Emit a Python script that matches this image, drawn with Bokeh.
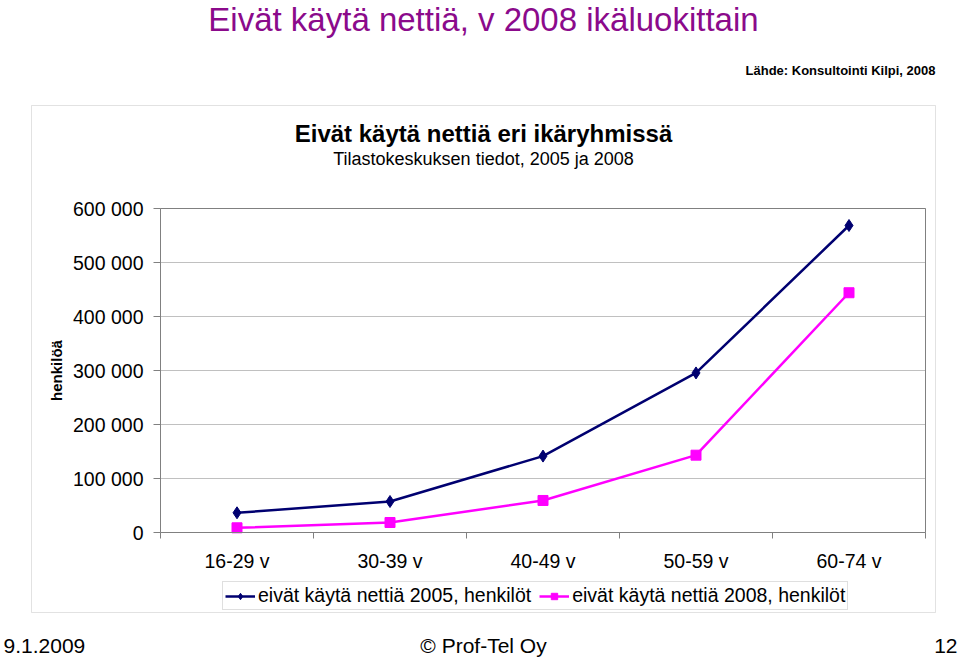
from bokeh.plotting import figure
from bokeh.models import (Label, Legend, LegendItem, FixedTicker, Range1d, BoxAnnotation)
from bokeh.embed import file_html
from bokeh.resources import INLINE

categories = ["16-29 v", "30-39 v", "40-49 v", "50-59 v", "60-74 v"]
values_2005 = [36500, 57400, 141500, 295500, 568500]
values_2008 = [8700, 18500, 59300, 143200, 444000]
series_names = ["eivät käytä nettiä 2005, henkilöt", "eivät käytä nettiä 2008, henkilöt"]
y_ticks = [0, 100000, 200000, 300000, 400000, 500000, 600000]
y_tick_labels = ["0", "100 000", "200 000", "300 000", "400 000", "500 000", "600 000"]

W, H = 960, 659
# plot area edges in page pixels
PL, PR, PT, PB = 160, 925, 208, 532
FONT = "Liberation Sans"

n = len(categories)
ymax = y_ticks[-1]
x = [i + 0.5 for i in range(n)]

# ranges chosen so that the plot area maps onto the page pixels above,
# while the frame covers the whole canvas (axes use fixed locations)
ux = (PR - PL) / n
uy = (PB - PT) / ymax
x_range = Range1d(-PL / ux, n + (W - PR) / ux)
y_range = Range1d(-(H - PB) / uy, ymax + PT / uy)

p = figure(width=W, height=H, output_backend="svg", toolbar_location=None,
           x_range=x_range, y_range=y_range, min_border=0,
           title_location=None)
p.background_fill_color = "white"
p.border_fill_color = "white"
p.outline_line_color = None
p.grid.visible = False

# x axis
p.xaxis.fixed_location = 0
p.xaxis.bounds = (0, n)
p.xaxis.ticker = FixedTicker(ticks=x, minor_ticks=list(range(n + 1)))
p.xaxis.major_label_overrides = {xi: c for xi, c in zip(x, categories)}
p.xaxis.major_tick_line_color = None
p.xaxis.minor_tick_in = 0
p.xaxis.minor_tick_out = 6
p.xaxis.minor_tick_line_color = "#808080"
p.xaxis.axis_line_color = "#808080"
p.xaxis.major_label_text_font = FONT
p.xaxis.major_label_text_font_size = "19.5px"
p.xaxis.major_label_text_color = "black"
p.xaxis.major_label_standoff = 11

# y axis
p.yaxis.fixed_location = 0
p.yaxis.bounds = (0, ymax)
p.yaxis.ticker = FixedTicker(ticks=y_ticks, minor_ticks=[])
p.yaxis.major_label_overrides = {t: l for t, l in zip(y_ticks, y_tick_labels)}
p.yaxis.major_tick_in = 0
p.yaxis.major_tick_out = 7
p.yaxis.major_tick_line_color = "#808080"
p.yaxis.axis_line_color = "#808080"
p.yaxis.major_label_text_font = FONT
p.yaxis.major_label_text_font_size = "19.5px"
p.yaxis.major_label_text_color = "black"
p.yaxis.major_label_standoff = 10
p.yaxis.axis_label = "henkilöä"
p.yaxis.axis_label_text_font = FONT
p.yaxis.axis_label_text_font_style = "bold"
p.yaxis.axis_label_text_font_size = "15px"
p.yaxis.axis_label_text_color = "black"
p.yaxis.axis_label_standoff = 5

# gridlines and plot-area border (from the tick array)
p.segment(x0=[0] * len(y_ticks), x1=[n] * len(y_ticks), y0=y_ticks, y1=y_ticks,
          line_color="#c0c0c0", line_width=1)
p.segment(x0=[0, n], x1=[n, n], y0=[ymax, 0], y1=[ymax, ymax],
          line_color="#808080", line_width=1)

# series
c05 = "#000070"
c08 = "#ff00ff"
l1 = p.line(x, values_2005, line_color=c05, line_width=2.5)
m1 = p.scatter(x, values_2005, marker="diamond", size=12, fill_color=c05, line_color=c05)
l2 = p.line(x, values_2008, line_color=c08, line_width=2.5)
m2 = p.scatter(x, values_2008, marker="square", size=10, fill_color=c08, line_color=c08)

legend = Legend(items=[LegendItem(label=series_names[0], renderers=[l1, m1]),
                       LegendItem(label=series_names[1], renderers=[l2, m2])],
                orientation="horizontal", location=(222, H - 610),
                label_text_font=FONT, label_text_font_size="19.5px",
                label_text_color="black", label_height=18,
                glyph_width=30, glyph_height=16, label_standoff=3, spacing=8,
                padding=2, margin=0, border_line_color="#c0c0c0",
                background_fill_alpha=1)
p.add_layout(legend, "center")

# chart border box
p.add_layout(BoxAnnotation(left=31, right=935, top=H - 105, bottom=H - 612,
                           left_units="screen", right_units="screen",
                           top_units="screen", bottom_units="screen",
                           fill_alpha=0, line_color="#a0a0a0", line_width=1,
                           level="underlay"))

def add_text(txt, sx, sy, size, color="black", style="normal", align="center",
             font=FONT):
    p.add_layout(Label(x=sx, y=H - sy, x_units="screen", y_units="screen",
                       text=txt, text_font=font, text_font_size=size,
                       text_color=color, text_font_style=style,
                       text_align=align, text_baseline="middle"))

add_text("Eivät käytä nettiä, v 2008 ikäluokittain", 483, 19, "33px", color="#8b0a8b")
add_text("Lähde: Konsultointi Kilpi, 2008", 935, 70, "13px", style="bold", align="right")
add_text("Eivät käytä nettiä eri ikäryhmissä", 483, 133, "24px", style="bold")
add_text("Tilastokeskuksen tiedot, 2005 ja 2008", 483, 158, "18px")
add_text("9.1.2009", 3, 645, "21px", align="left")
add_text("© Prof-Tel Oy", 483, 645, "21px")
add_text("12", 957, 645, "21px", align="right")

open("out.html", "w").write(file_html(p, INLINE))
